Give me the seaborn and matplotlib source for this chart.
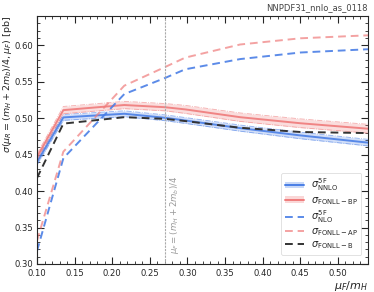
import numpy as np
import pandas as pd
import matplotlib
matplotlib.use("Agg")
import matplotlib.pyplot as plt
import seaborn as sns
from matplotlib.lines import Line2D
from matplotlib.patches import Patch

# ---- data ----
x_vals = [0.100, 0.135, 0.216, 0.270, 0.297, 0.370, 0.450, 0.540]
nnlo_5f = [0.440, 0.501, 0.506, 0.5005, 0.4968, 0.4863, 0.4763, 0.4664]
nnlo_5f_err = [0.004, 0.004, 0.004, 0.004, 0.004, 0.0042, 0.0045, 0.0045]
fonll_bp = [0.447, 0.511, 0.518, 0.515, 0.512, 0.5013, 0.493, 0.4855]
fonll_bp_err = [0.004, 0.005, 0.005, 0.005, 0.0055, 0.0058, 0.006, 0.006]
nlo_5f = [0.318, 0.445, 0.533, 0.555, 0.567, 0.581, 0.590, 0.5945]
fonll_ap = [0.332, 0.454, 0.5445, 0.570, 0.583, 0.601, 0.6095, 0.6136]
fonll_b = [0.418, 0.4925, 0.5013, 0.499, 0.496, 0.4868, 0.481, 0.4795]
vline_x = 0.2697

blue = "#4a7fe6"
red = "#ef7b7b"

sns.set_style("ticks")
plt.rcParams['font.family'] = ['DejaVu Sans']

fig = plt.figure(figsize=(3.74, 2.92), dpi=100)
ax = fig.add_axes([0.099, 0.096, 0.885, 0.849])

df = pd.DataFrame({"x": x_vals, "nnlo": nnlo_5f, "bp": fonll_bp,
                   "nlo": nlo_5f, "ap": fonll_ap, "b": fonll_b})

for col, err, c in [("nnlo", nnlo_5f_err, blue), ("bp", fonll_bp_err, red)]:
    y = np.array(df[col]); e = np.array(err)
    ax.fill_between(df["x"], y - e, y + e, color=c, alpha=0.25, lw=0)
    ax.plot(df["x"], y - e, color=c, lw=0.6, ls="-.", alpha=0.6)
    ax.plot(df["x"], y + e, color=c, lw=0.6, ls="-.", alpha=0.6)
    sns.lineplot(data=df, x="x", y=col, ax=ax, color=c, lw=1.4, alpha=0.9)

sns.lineplot(data=df, x="x", y="nlo", ax=ax, color=blue, lw=1.4, ls=(0, (4, 2.5)), alpha=0.9)
sns.lineplot(data=df, x="x", y="ap", ax=ax, color=red, lw=1.4, ls=(0, (4, 2.5)), alpha=0.7)
sns.lineplot(data=df, x="x", y="b", ax=ax, color="#333333", lw=1.4, ls=(0, (4, 2.5)))

ax.axvline(vline_x, color="#aaaaaa", lw=0.8, ls=(0, (2, 1)))
ax.text(vline_x + 0.004, 0.314, r"$\mu_F = (m_H + 2m_b)/4$", rotation=90,
        color="#999999", fontsize=6.2, va="bottom", ha="left")

ax.set_xlim(0.10, 0.54)
ax.set_ylim(0.30, 0.64)
ax.set_xticks(np.arange(0.10, 0.501, 0.05))
ax.set_yticks(np.arange(0.30, 0.601, 0.05))
ax.xaxis.set_minor_locator(matplotlib.ticker.MultipleLocator(0.01))
ax.yaxis.set_minor_locator(matplotlib.ticker.MultipleLocator(0.01))
ax.tick_params(which="both", direction="in", top=True, right=True, labelsize=6.1)
ax.tick_params(axis="y", which="major", pad=2.5)
ax.tick_params(which="major", length=5, width=0.8)
ax.tick_params(which="minor", length=2.5, width=0.6)
ax.xaxis.set_major_formatter(matplotlib.ticker.FormatStrFormatter("%.2f"))
ax.yaxis.set_major_formatter(matplotlib.ticker.FormatStrFormatter("%.2f"))
for s in ax.spines.values():
    s.set_linewidth(0.8)

ax.set_xlabel(r"$\mu_F/m_H$", fontsize=8, loc="right", labelpad=1)
ax.set_ylabel(r"$\sigma(\mu_R = (m_H + 2m_b)/4, \mu_F)$ [pb]", fontsize=6.8, loc="top")
ax.yaxis.set_label_coords(-0.071, 1.0)
ax.set_title("NNPDF31_nnlo_as_0118", loc="right", fontsize=6, color="#444444", pad=4)

handles = [
    (Patch(facecolor=blue, alpha=0.3, edgecolor="none"), Line2D([], [], color=blue, lw=1.4)),
    (Patch(facecolor=red, alpha=0.3, edgecolor="none"), Line2D([], [], color=red, lw=1.4)),
    Line2D([], [], color=blue, lw=1.4, ls=(0, (4, 2.5)), alpha=0.9),
    Line2D([], [], color=red, lw=1.4, ls=(0, (4, 2.5)), alpha=0.7),
    Line2D([], [], color="#333333", lw=1.4, ls=(0, (4, 2.5))),
]
labels = [r"$\sigma^{\rm 5F}_{\rm NNLO}$", r"$\sigma_{\rm FONLL-BP}$",
          r"$\sigma^{\rm 5F}_{\rm NLO}$", r"$\sigma_{\rm FONLL-AP}$",
          r"$\sigma_{\rm FONLL-B}$"]
leg = ax.legend(handles, labels, loc="lower right", fontsize=7, frameon=True,
                handlelength=1.9, labelspacing=0.15, borderpad=0.4,
                handletextpad=0.7, bbox_to_anchor=(0.995, 0.015))
leg.get_frame().set_linewidth(0.5)

fig.savefig("out.png", dpi=100)
